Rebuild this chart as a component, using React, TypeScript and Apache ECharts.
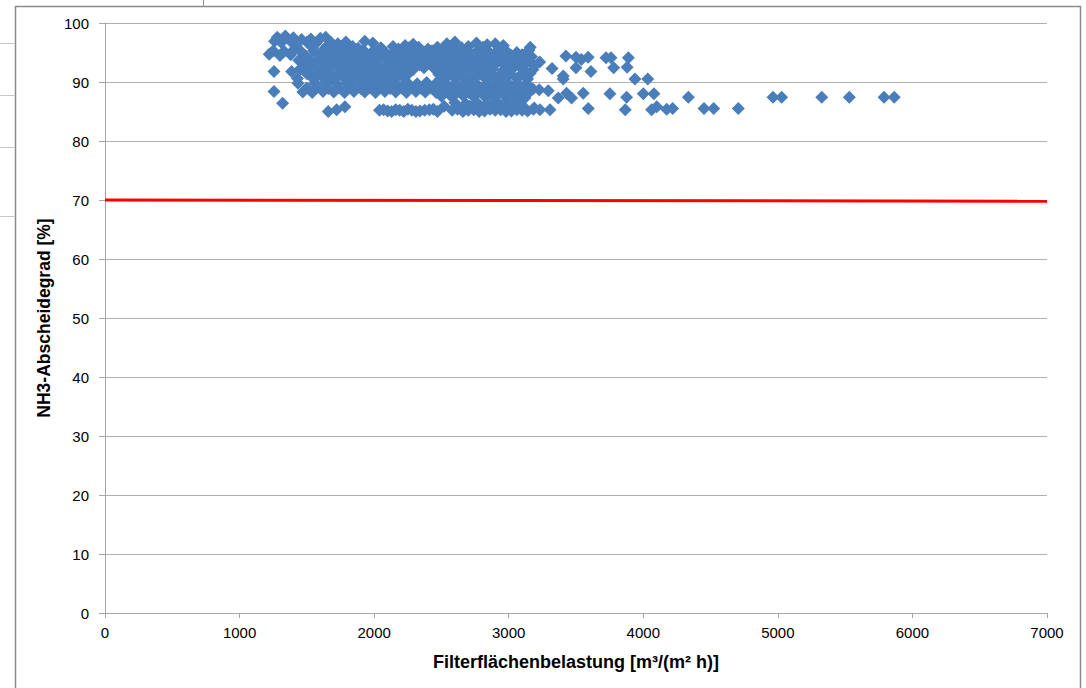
import React, { useEffect, useRef } from "react";
import * as echarts from "echarts";

// Filter surface load [m³/(m² h)] vs. NH3 removal efficiency [%], main cloud
const cloudPoints: [number, number][] = [
  // ~97–98 %
  [1280, 97.6], [1340, 97.8], [1400, 97.5], [1460, 97.2], [1530, 97.3], [1600, 97.4], [1640, 97.6],
  [1260, 96.9], [1310, 96.7], [1380, 96.9], [1500, 96.8], [1570, 96.6], [1680, 96.7], [1730, 96.5],
  [1790, 96.8], [1930, 96.9], [1990, 96.6], [2230, 96.2], [2290, 96.4], [2540, 96.5], [2600, 96.8],
  [2760, 96.6], [2840, 96.3], [2900, 96.5], [2960, 96.2],
  // ~96 %
  [1420, 96.0], [1540, 95.9], [1650, 96.1], [1760, 95.9], [1840, 96.0], [1880, 95.7], [2050, 95.8],
  [2140, 96.0], [2180, 95.6], [2260, 95.8], [2330, 95.9], [2400, 95.6], [2470, 95.9], [2520, 95.7],
  [2580, 96.1], [2650, 95.8], [2700, 96.0], [2810, 95.9], [3160, 95.9], [3150, 95.4],
  // ~95 %
  [1250, 95.3], [1330, 95.2], [1400, 95.4], [1460, 95.1], [1550, 95.3], [1620, 95.4], [1700, 95.2],
  [1780, 95.3], [1850, 95.1], [1920, 95.4], [1990, 95.2], [2070, 95.3], [2150, 95.0], [2210, 95.3],
  [2280, 95.4], [2360, 95.2], [2430, 95.3], [2500, 95.1], [2570, 95.4], [2620, 95.2], [2690, 95.3],
  [2760, 95.1], [2840, 95.4], [2910, 95.2], [2980, 95.3], [3060, 95.0],
  [1220, 94.7], [1300, 94.5], [1380, 94.6], [1490, 94.4], [1580, 94.7], [1660, 94.5], [1740, 94.6],
  [1810, 94.3], [1890, 94.6], [1960, 94.5], [2040, 94.7], [2110, 94.4], [2190, 94.6], [2250, 94.5],
  [2320, 94.8], [2390, 94.4], [2470, 94.6], [2540, 94.5], [2610, 94.3], [2680, 94.7], [2730, 94.5],
  [2810, 94.6], [2880, 94.4], [2950, 94.7], [3020, 94.5], [3100, 94.6], [3170, 94.3],
  // ~93–94 %
  [1440, 93.7], [1520, 93.8], [1610, 94.0], [1700, 93.6], [1770, 93.8], [1850, 93.9], [1930, 93.7],
  [2000, 93.8], [2080, 94.0], [2160, 93.7], [2230, 93.9], [2300, 93.6], [2370, 93.8], [2440, 93.9],
  [2520, 93.7], [2590, 93.8], [2650, 94.0], [2720, 93.6], [2780, 93.8], [2860, 93.9], [2930, 93.7],
  [3000, 93.8], [3080, 93.6], [3150, 93.9], [3230, 93.4],
  [1480, 93.0], [1560, 93.1], [1640, 92.9], [1730, 93.2], [1800, 93.0], [1880, 92.9], [1960, 93.1],
  [2030, 93.0], [2110, 92.8], [2180, 93.1], [2260, 93.0], [2340, 92.9], [2410, 93.2], [2480, 93.0],
  [2560, 92.9], [2630, 93.1], [2700, 93.0], [2760, 92.8], [2840, 93.1], [2900, 93.0], [2970, 92.9],
  [3050, 93.1], [3120, 93.0], [3190, 92.8],
  // ~92 %
  [1450, 92.2], [1530, 92.3], [1610, 92.1], [1680, 92.4], [1760, 92.2], [1840, 92.1], [1910, 92.3],
  [1990, 92.2], [2060, 92.0], [2140, 92.3], [2220, 92.2], [2290, 92.1], [2370, 92.4], [2450, 92.2],
  [2520, 92.0], [2600, 92.3], [2670, 92.2], [2740, 92.1], [2810, 92.3], [2880, 92.2], [2960, 92.0],
  [3030, 92.3], [3100, 92.2], [3180, 92.1],
  [1256, 91.8], [1387, 91.8],
  // ~91 %
  [1500, 91.4], [1580, 91.3], [1660, 91.5], [1720, 91.2], [1800, 91.4], [1870, 91.5], [1950, 91.3],
  [2020, 91.4], [2100, 91.2], [2180, 91.5], [2250, 91.3], [2480, 91.3], [2560, 91.5], [2640, 91.4],
  [2720, 91.2], [2790, 91.4], [2860, 91.5], [2940, 91.3], [3010, 91.4], [3090, 91.2], [3160, 91.5],
  [1430, 90.6], [1550, 90.5], [1620, 90.7], [1700, 90.4], [1780, 90.6], [1850, 90.5], [1930, 90.7],
  [2000, 90.4], [2070, 90.6], [2150, 90.5], [2220, 90.7], [2520, 90.5], [2600, 90.6], [2680, 90.4],
  [2750, 90.7], [2830, 90.5], [2900, 90.6], [2970, 90.4], [3060, 90.6], [3140, 90.5],
  // ~89–90 %
  [1434, 89.8], [1560, 89.8], [1640, 89.9], [1720, 89.7], [1800, 89.8], [1880, 90.0], [1950, 89.7],
  [2030, 89.8], [2100, 89.9], [2170, 89.6], [2250, 89.8], [2320, 89.7], [2390, 89.9], [2460, 89.8],
  [2540, 89.6], [2610, 89.8], [2690, 89.9], [2760, 89.7], [2840, 89.8], [2910, 89.6], [2990, 89.9],
  [3060, 89.8], [3130, 89.7],
  [1500, 89.0], [1580, 89.1], [1660, 88.9], [1740, 89.0], [1820, 89.2], [1900, 88.9], [1970, 89.0],
  [2050, 89.1], [2120, 88.9], [2200, 89.0], [2270, 89.2], [2350, 88.9], [2420, 89.0], [2500, 89.1],
  [2580, 88.9], [2650, 89.0], [2730, 89.2], [2800, 88.9], [2880, 89.0], [2950, 89.1], [3030, 88.9],
  [3100, 89.0], [3180, 88.8],
  // ~88 %
  [1256, 88.4], [1470, 88.3], [1540, 88.2], [1620, 88.4], [1700, 88.3], [1780, 88.2], [1850, 88.4],
  [1930, 88.3], [2010, 88.2], [2080, 88.4], [2160, 88.3], [2240, 88.2], [2310, 88.4], [2380, 88.3],
  [2460, 88.2], [2540, 88.4], [2620, 88.3], [2700, 88.2], [2770, 88.4], [2850, 88.3], [2920, 88.2],
  [3000, 88.4], [3080, 88.3], [3150, 88.2],
  [2500, 87.6], [2580, 87.4], [2660, 87.7], [2740, 87.5], [2820, 87.6], [2890, 87.4], [2970, 87.6],
  [3040, 87.5], [3120, 87.3],
  // ~85–86 %
  [1320, 86.4], [2600, 86.5], [2680, 86.3], [2760, 86.6], [2840, 86.4], [2920, 86.5], [3000, 86.3],
  [3080, 86.5],
  [1783, 85.8], [2520, 85.9], [2630, 85.7], [2710, 85.9], [2790, 85.8], [2870, 85.6], [2950, 85.9],
  [3030, 85.7], [3110, 85.8], [3190, 85.6],
  [1659, 85.0], [1721, 85.3], [2040, 85.2], [2100, 85.1], [2160, 85.3], [2220, 85.0], [2280, 85.2],
  [2340, 85.1], [2410, 85.3], [2470, 85.0], [2580, 85.2], [2660, 85.0], [2740, 85.3], [2820, 85.1],
  [2900, 85.2], [2980, 85.0], [3060, 85.3], [3140, 85.1],
  [2070, 85.3], [2130, 85.0], [2190, 85.2], [2250, 85.4], [2310, 85.0], [2375, 85.2], [2440, 85.4],
  [2620, 85.4], [2700, 85.2], [2780, 85.0], [2860, 85.4], [2940, 85.3], [3020, 85.1], [3100, 85.2],
];

// Measurements at higher loads (sparser)
const highLoadPoints: [number, number][] = [
  [3322, 92.3], [3294, 88.5], [3227, 88.7], [3307, 85.3], [3232, 85.3], [3183, 85.4],
  [3368, 87.3], [3405, 91.0], [3405, 90.5], [3425, 94.4], [3500, 94.2], [3540, 93.8],
  [3590, 94.2], [3500, 92.4], [3611, 91.8], [3430, 88.1], [3467, 87.3], [3554, 88.1],
  [3591, 85.5], [3723, 94.1], [3760, 94.1], [3780, 92.4], [3752, 88.0], [3889, 94.1],
  [3880, 92.5], [3876, 87.4], [3866, 85.3], [3938, 90.5], [4033, 90.5], [4000, 88.0],
  [4079, 88.0], [4062, 85.3], [4100, 85.8], [4174, 85.4], [4218, 85.5], [4335, 87.4],
  [4451, 85.5], [4523, 85.5], [4706, 85.5], [4964, 87.4], [5028, 87.4], [5326, 87.4],
  [5531, 87.4], [5789, 87.4], [5865, 87.4],
];

// Required minimum removal efficiency
const limitLoad = [0, 7000];
const limitEfficiency = [70, 69.8];

const FONT = "'Liberation Sans', Arial, sans-serif";
const AXIS_GRAY = "#a6a6a6";

export default function App() {
  const ref = useRef<HTMLDivElement>(null);

  useEffect(() => {
    if (!ref.current) return;
    const chart = echarts.init(ref.current, undefined, { renderer: "svg" });

    const frame = "#8a8a8a";
    const cell = "#c8c8c8";

    chart.setOption({
      animation: false,
      backgroundColor: "#ffffff",
      textStyle: { fontFamily: FONT },
      grid: { left: 105, right: 39, top: 23, bottom: 75, containLabel: false },
      xAxis: {
        type: "value",
        min: 0,
        max: 7000,
        interval: 1000,
        name: "Filterflächenbelastung [m³/(m² h)]",
        nameLocation: "middle",
        nameGap: 40,
        nameTextStyle: { fontFamily: FONT, fontWeight: "bold", fontSize: 18, color: "#000" },
        axisLine: { show: true, onZero: false, lineStyle: { color: AXIS_GRAY, width: 1 } },
        axisTick: { show: true, length: 5, lineStyle: { color: AXIS_GRAY } },
        axisLabel: {
          fontFamily: FONT,
          fontSize: 15,
          color: "#000",
          margin: 12,
          formatter: (v: number) => String(v),
        },
        splitLine: { show: false },
      },
      yAxis: {
        type: "value",
        min: 0,
        max: 100,
        interval: 10,
        name: "NH3-Abscheidegrad [%]",
        nameLocation: "middle",
        nameGap: 49,
        nameRotate: 90,
        nameTextStyle: { fontFamily: FONT, fontWeight: "bold", fontSize: 17.5, color: "#000" },
        axisLine: { show: true, lineStyle: { color: AXIS_GRAY, width: 1 } },
        axisTick: { show: true, length: 6, lineStyle: { color: AXIS_GRAY } },
        axisLabel: { fontFamily: FONT, fontSize: 15, color: "#000", margin: 16 },
        splitLine: { show: true, lineStyle: { color: "#b0b0b0", width: 1 } },
      },
      series: [
        {
          type: "scatter",
          symbol: "diamond",
          symbolSize: 13,
          itemStyle: { color: "#4A7EBB", opacity: 1 },
          data: [...cloudPoints, ...highLoadPoints],
          z: 2,
        },
        {
          type: "line",
          symbol: "none",
          data: limitLoad.map((x, i) => [x, limitEfficiency[i]]),
          lineStyle: { color: "#ff0000", width: 3 },
          z: 3,
        },
      ],
      graphic: [
        // chart frame
        { type: "line", shape: { x1: 15.5, y1: 6, x2: 15.5, y2: 688 }, style: { stroke: frame, lineWidth: 1.5 } },
        { type: "line", shape: { x1: 15, y1: 6.5, x2: 1081, y2: 6.5 }, style: { stroke: frame, lineWidth: 1.5 } },
        { type: "line", shape: { x1: 1080.5, y1: 6, x2: 1080.5, y2: 688 }, style: { stroke: frame, lineWidth: 1.5 } },
        // sheet grid lines around the frame
        { type: "line", shape: { x1: 0, y1: 43.5, x2: 15, y2: 43.5 }, style: { stroke: cell, lineWidth: 1 } },
        { type: "line", shape: { x1: 0, y1: 95.5, x2: 15, y2: 95.5 }, style: { stroke: cell, lineWidth: 1 } },
        { type: "line", shape: { x1: 0, y1: 147.5, x2: 15, y2: 147.5 }, style: { stroke: cell, lineWidth: 1 } },
        { type: "line", shape: { x1: 0, y1: 216.5, x2: 15, y2: 216.5 }, style: { stroke: cell, lineWidth: 1 } },
        { type: "line", shape: { x1: 203.5, y1: 0, x2: 203.5, y2: 6 }, style: { stroke: frame, lineWidth: 1 } },
      ],
    });

    return () => chart.dispose();
  }, []);

  return (
    <div
      ref={ref}
      style={{ position: "fixed", left: 0, top: 0, width: 1086, height: 688, background: "#fff" }}
    />
  );
}
